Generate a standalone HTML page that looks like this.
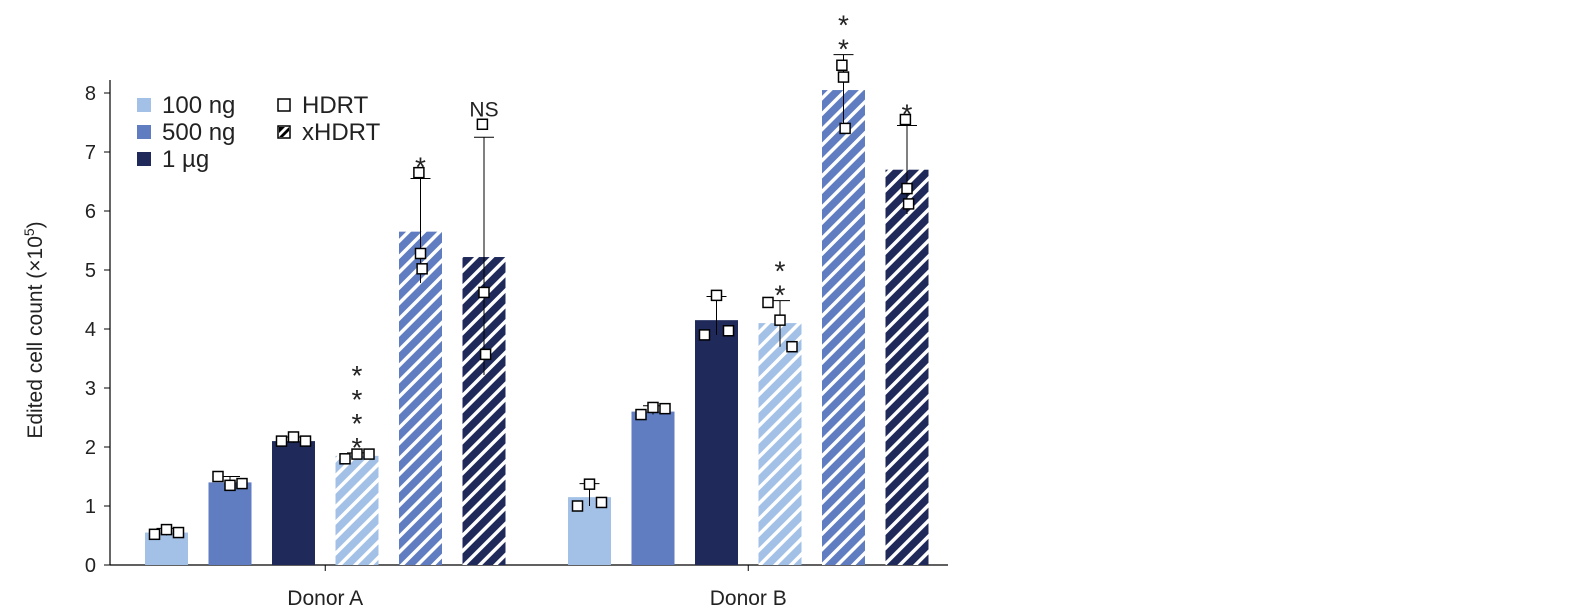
<!DOCTYPE html>
<html><head><meta charset="utf-8"><style>
body{margin:0;background:#fff;}
svg{display:block;font-family:"Liberation Sans",sans-serif;}
</style></head><body>
<svg id="chart" width="1577" height="609" viewBox="0 0 1577 609">
<defs>
<pattern id="h0" patternUnits="userSpaceOnUse" width="11" height="11" patternTransform="rotate(45)"><rect width="11" height="11" fill="#a3c1e6"/><rect x="0" width="3.5" height="11" fill="#fff"/></pattern>
<pattern id="h1" patternUnits="userSpaceOnUse" width="11" height="11" patternTransform="rotate(45)"><rect width="11" height="11" fill="#5f7dc0"/><rect x="0" width="3.5" height="11" fill="#fff"/></pattern>
<pattern id="h2" patternUnits="userSpaceOnUse" width="11" height="11" patternTransform="rotate(45)"><rect width="11" height="11" fill="#1f2a5a"/><rect x="0" width="3.5" height="11" fill="#fff"/></pattern>
</defs>
<g id="plot"></g>
</svg>
<script>
const groups=["Donor A","Donor B"];
const barValues=[[0.55,1.4,2.1,1.85,5.65,5.22],[1.15,2.6,4.15,4.1,8.05,6.7]];
const errLow=[[0.5,1.32,2.07,1.8,4.78,3.22],[1.0,2.55,3.9,3.7,7.4,5.95]];
const errHigh=[[0.62,1.5,2.17,1.9,6.55,7.25],[1.38,2.7,4.55,4.48,8.65,7.45]];
const points=[[[0.52,0.6,0.55],[1.5,1.35,1.38],[2.1,2.17,2.1],[1.8,1.88,1.88],[6.65,5.28,5.02],[7.47,4.62,3.57]],
[[1.0,1.37,1.06],[2.55,2.67,2.65],[3.9,4.57,3.97],[4.45,4.15,3.7],[8.47,8.27,7.4],[7.55,6.38,6.12]]];
const sig=[["","","","****","*","NS"],["","","","**","**","*"]];
const yTicks=[0,1,2,3,4,5,6,7,8];
const fills=["#a3c1e6","#5f7dc0","#1f2a5a","url(#h0)","url(#h1)","url(#h2)"];
const NS="http://www.w3.org/2000/svg";
const g=document.getElementById('plot');
const y=v=>565-v*59;
const groupStart=[145,568], barStep=63.5, barW=43;
const x=(gi,bi)=>groupStart[gi]+bi*barStep;
function el(t,a,txt){const e=document.createElementNS(NS,t);for(const k in a)e.setAttribute(k,a[k]);if(txt!==undefined)e.textContent=txt;g.appendChild(e);return e;}
// axes
let e=el('line',{x1:110,y1:565,x2:948,y2:565,stroke:'#000','stroke-width':1.2});

e=el('line',{x1:110,y1:80,x2:110,y2:565,stroke:'#000','stroke-width':1.2});

yTicks.forEach(t=>{
 let l=el('line',{x1:104,y1:y(t),x2:110,y2:y(t),stroke:'#000'});
 
 let tx=el('text',{x:96,y:y(t)+7,'text-anchor':'end','font-size':20,fill:'#222'},t);
 
});
e=el('text',{transform:'translate(42,330) rotate(-90)','text-anchor':'middle','font-size':21,fill:'#222'});
e.innerHTML='Edited cell count (×10<tspan font-size="14" dy="-8">5</tspan><tspan dy="8">)</tspan>';

groups.forEach((gn,gi)=>{
 let gl=el('text',{x:(x(gi,0)+x(gi,5)+barW)/2,y:605,'text-anchor':'middle','font-size':21,fill:'#222'},gn);
 
 let tk=el('line',{x1:(x(gi,0)+x(gi,5)+barW)/2,y1:565,x2:(x(gi,0)+x(gi,5)+barW)/2,y2:571,stroke:'#000'});
 
 barValues[gi].forEach((v,bi)=>{
  const bx=x(gi,bi),cx=bx+barW/2;
  let r=el('rect',{x:bx,y:y(v),width:barW,height:565-y(v),fill:fills[bi]});
  
  let eb=el('line',{x1:cx,y1:y(errLow[gi][bi]),x2:cx,y2:y(errHigh[gi][bi]),stroke:'#000','stroke-width':1});
  
  let cap=el('line',{x1:cx-10,y1:y(errHigh[gi][bi]),x2:cx+10,y2:y(errHigh[gi][bi]),stroke:'#000'});
  
  points[gi][bi].forEach((p,pi)=>{
   const px=cx+(pi-1)*12*(bi>=4?0.3:1)+(bi>=4?(pi-1)*-2:0);
   let s=el('rect',{x:px-5,y:y(p)-5,width:10,height:10,fill:'#fff',stroke:'#000','stroke-width':1.5});
   
  });
  const sg=sig[gi][bi];
  if(sg){
   const top=y(Math.max(errHigh[gi][bi],...points[gi][bi]))-8;
   if(sg==="NS"){let t=el('text',{x:cx,y:top,'text-anchor':'middle','font-size':21,fill:'#222'},'NS');}
   else{for(let k=0;k<sg.length;k++){let t=el('text',{x:cx,y:top+12-k*24,'text-anchor':'middle','font-size':28,fill:'#222'},'*');}}
  }
 });
});
// legend
const legItems=[["100 ng","#a3c1e6"],["500 ng","#5f7dc0"],["1 µg","#1f2a5a"]];
legItems.forEach((it,i)=>{
 let r=el('rect',{x:137,y:98+i*27,width:14,height:14,fill:it[1]});
 
 let t=el('text',{x:162,y:113+i*27,'font-size':24,fill:'#222'},it[0]);
 
});
e=el('rect',{x:278,y:99,width:12,height:12,fill:'#fff',stroke:'#000','stroke-width':1.5});

e=el('text',{x:302,y:113,'font-size':24,fill:'#222'},'HDRT');

e=el('rect',{x:278,y:126,width:12,height:12,fill:'#fff',stroke:'#000','stroke-width':1.5});

e=el('polygon',{points:'279,137 289,127 289,131 283,137',fill:'#000'});

e=el('polygon',{points:'279,127 285,127 279,133',fill:'#000'});

e=el('text',{x:302,y:140,'font-size':24,fill:'#222'},'xHDRT');

</script>
</body></html>
